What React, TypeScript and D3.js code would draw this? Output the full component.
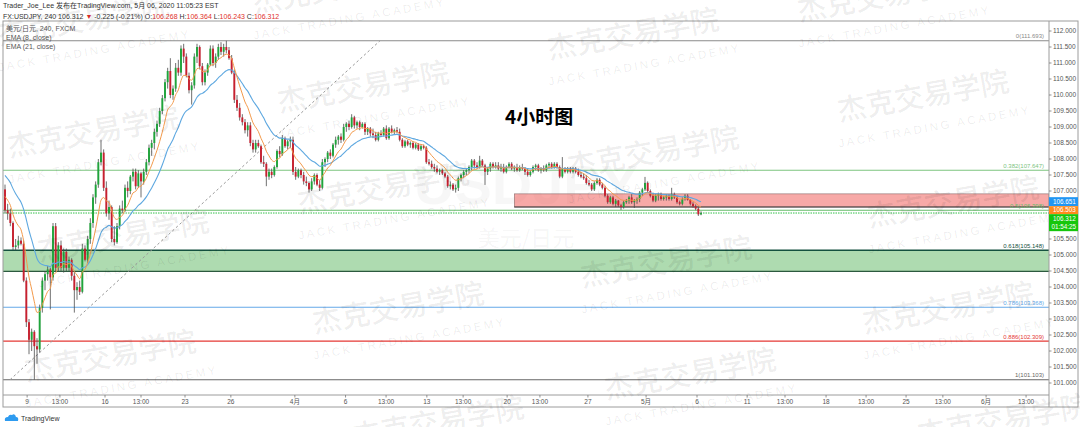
import React from 'react';
import * as d3 from 'd3';

// One 4-hour candle: open, high, low, close
type Bar = [number, number, number, number];

const crashAndBase: Bar[] = [
  [107.05, 107.2, 106.3, 106.4], [106.4, 106.6, 106.1, 106.3], [106.3, 106.45, 105.9, 106.0],
  [106.0, 106.05, 105.15, 105.25], [105.25, 105.5, 105.15, 105.3], [105.3, 105.6, 105.2, 105.45],
  [105.45, 105.55, 105.3, 105.35], [105.35, 105.45, 104.15, 104.2], [104.2, 104.3, 102.75, 102.9],
  [102.9, 103.0, 101.9, 102.35], [102.35, 102.7, 102.0, 102.6], [102.6, 102.65, 101.103, 102.15],
  [102.15, 102.4, 101.6, 102.05], [102.05, 103.45, 101.95, 103.35], [103.35, 104.3, 103.2, 104.2],
  [104.2, 104.5, 103.9, 104.4], [104.4, 104.65, 104.2, 104.55], [104.55, 104.6, 103.3, 104.3],
  [104.3, 106.0, 104.2, 105.9], [105.9, 106.0, 104.5, 104.6], [104.6, 105.4, 104.5, 105.3],
  [105.3, 105.45, 104.5, 104.6], [104.6, 105.2, 104.45, 105.1], [105.1, 105.2, 104.5, 104.6],
  [104.6, 104.95, 104.5, 104.85], [104.85, 104.9, 104.2, 104.35], [104.35, 104.5, 103.2, 103.9],
  [103.9, 104.15, 103.6, 104.0], [104.0, 104.2, 103.75, 103.85], [103.85, 105.35, 103.8, 105.2],
];

const rally: Bar[] = [
  [105.2, 105.3, 104.8, 104.85], [104.85, 105.6, 104.75, 105.5], [105.5, 106.15, 105.35, 106.0],
  [106.0, 106.9, 105.85, 106.8], [106.8, 107.3, 106.6, 107.2], [107.2, 108.0, 107.1, 107.9],
  [107.9, 108.6, 107.8, 108.2], [108.2, 108.3, 107.0, 107.1], [107.1, 107.3, 106.2, 106.3],
  [106.3, 106.7, 106.1, 106.5], [106.5, 106.55, 105.4, 105.5], [105.5, 105.9, 105.3, 105.4],
  [105.4, 106.0, 105.35, 105.9], [105.9, 106.55, 105.8, 106.45], [106.45, 106.7, 106.3, 106.4],
  [106.4, 107.2, 106.35, 107.1], [107.1, 107.3, 106.8, 107.0], [107.0, 107.5, 106.9, 107.45],
  [107.45, 107.7, 107.3, 107.6], [107.6, 107.7, 107.05, 107.15], [107.15, 107.65, 107.1, 107.55],
  [107.55, 107.6, 106.8, 107.3], [107.3, 107.7, 107.2, 107.6], [107.6, 108.0, 107.5, 107.9],
  [107.9, 108.45, 107.8, 108.35], [108.35, 108.6, 108.1, 108.5], [108.5, 108.95, 108.3, 108.85],
  [108.85, 109.2, 108.7, 109.1], [109.1, 109.6, 109.0, 109.5], [109.5, 110.0, 109.4, 109.9],
  [109.9, 110.5, 109.8, 110.4], [110.4, 110.85, 110.2, 110.75],
];

const topping: Bar[] = [
  [110.75, 111.15, 109.9, 110.0], [110.0, 110.3, 109.85, 110.2], [110.2, 111.0, 110.1, 110.85],
  [110.85, 111.1, 110.6, 110.7], [110.7, 111.55, 110.6, 111.45], [111.45, 111.6, 111.0, 111.2],
  [111.2, 111.3, 110.55, 110.6], [110.6, 110.7, 110.05, 110.15], [110.15, 110.4, 109.7, 110.3],
  [110.3, 111.3, 110.2, 111.2], [111.2, 111.6, 111.0, 111.5], [111.5, 111.55, 110.8, 110.9],
  [110.9, 111.0, 110.3, 110.4], [110.4, 110.8, 110.3, 110.7], [110.7, 111.0, 110.6, 110.95],
  [110.95, 111.55, 110.9, 111.45], [111.45, 111.55, 110.9, 111.0], [111.0, 111.3, 110.85, 111.2],
  [111.2, 111.6, 111.1, 111.5], [111.5, 111.65, 111.25, 111.35], [111.35, 111.6, 111.2, 111.5],
  [111.5, 111.693, 111.3, 111.4], [111.4, 111.5, 111.1, 111.15], [111.15, 111.25, 110.65, 110.7],
  [110.7, 110.8, 109.75, 109.85], [109.85, 110.0, 109.5, 109.6], [109.6, 109.75, 109.2, 109.3],
  [109.3, 109.4, 109.05, 109.15], [109.15, 109.25, 108.8, 108.9], [108.9, 109.15, 108.7, 109.05],
  [109.05, 109.15, 108.4, 108.5],
];

const pullback: Bar[] = [
  [108.5, 108.6, 108.2, 108.3], [108.3, 108.6, 108.2, 108.5], [108.5, 108.6, 108.35, 108.4],
  [108.4, 108.45, 107.85, 107.9], [107.9, 108.1, 107.75, 107.85], [107.85, 107.9, 107.15, 107.45],
  [107.45, 107.7, 107.35, 107.6], [107.6, 107.7, 107.4, 107.5], [107.5, 107.8, 107.45, 107.75],
  [107.75, 108.3, 107.7, 108.25], [108.25, 108.4, 108.05, 108.15], [108.15, 108.75, 108.1, 108.65],
  [108.65, 108.7, 108.35, 108.4], [108.4, 108.6, 108.3, 108.55], [108.55, 108.7, 108.35, 108.6],
  [108.6, 108.7, 107.5, 107.6], [107.6, 107.75, 107.35, 107.45], [107.45, 107.7, 107.4, 107.65],
  [107.65, 107.7, 107.4, 107.5], [107.5, 107.6, 107.2, 107.3], [107.3, 107.45, 107.15, 107.25],
  [107.25, 107.3, 106.95, 107.05], [107.05, 107.4, 107.0, 107.3], [107.3, 107.55, 107.2, 107.5],
  [107.5, 107.55, 107.15, 107.2], [107.2, 107.35, 107.0, 107.1], [107.1, 108.0, 107.05, 107.9],
  [107.9, 108.05, 107.75, 108.0], [108.0, 108.25, 107.9, 108.2], [108.2, 108.3, 108.0, 108.1],
  [108.1, 108.5, 108.05, 108.45], [108.45, 108.7, 108.35, 108.6], [108.6, 108.75, 108.45, 108.7],
  [108.7, 108.8, 108.5, 108.6], [108.6, 109.1, 108.55, 109.0],
];

const drift: Bar[] = [
  [109.0, 109.15, 108.85, 109.1], [109.1, 109.2, 108.9, 109.0], [109.0, 109.4, 108.95, 109.3],
  [109.3, 109.35, 108.95, 109.05], [109.05, 109.2, 108.95, 109.15], [109.15, 109.2, 108.9, 109.0],
  [109.0, 109.15, 108.95, 109.1], [109.1, 109.15, 108.75, 108.85], [108.85, 109.0, 108.75, 108.95],
  [108.95, 109.0, 108.7, 108.8], [108.8, 108.95, 108.65, 108.75], [108.75, 108.85, 108.55, 108.6],
  [108.6, 108.85, 108.55, 108.8], [108.8, 108.9, 108.7, 108.75], [108.75, 109.0, 108.7, 108.95],
  [108.95, 109.05, 108.6, 108.65], [108.65, 109.0, 108.6, 108.95], [108.95, 109.05, 108.8, 108.85],
  [108.85, 108.95, 108.75, 108.9], [108.9, 109.0, 108.8, 108.85], [108.85, 108.95, 108.55, 108.6],
  [108.6, 108.65, 108.35, 108.4], [108.4, 108.6, 108.35, 108.55], [108.55, 108.6, 108.4, 108.45],
  [108.45, 108.55, 108.35, 108.5], [108.5, 108.55, 108.3, 108.35], [108.35, 108.5, 108.3, 108.45],
  [108.45, 108.5, 108.25, 108.3], [108.3, 108.45, 108.25, 108.4], [108.4, 108.45, 108.3, 108.35],
  [108.35, 108.4, 107.85, 107.9], [107.9, 108.0, 107.8, 107.85], [107.85, 107.95, 107.7, 107.75],
  [107.75, 107.85, 107.6, 107.7], [107.7, 107.8, 107.55, 107.6], [107.6, 107.7, 107.5, 107.65],
  [107.65, 107.7, 107.5, 107.55], [107.55, 107.6, 107.4, 107.45], [107.45, 107.5, 107.1, 107.15],
  [107.15, 107.3, 107.05, 107.2], [107.2, 107.25, 107.0, 107.05], [107.05, 107.2, 106.95, 107.1],
  [107.1, 107.45, 107.0, 107.4],
];

const range: Bar[] = [
  [107.4, 107.55, 107.3, 107.5], [107.5, 107.65, 107.4, 107.6], [107.6, 107.7, 107.5, 107.65],
  [107.65, 107.8, 107.55, 107.75], [107.75, 108.0, 107.65, 107.95], [107.95, 108.0, 107.7, 107.8],
  [107.8, 107.9, 107.7, 107.75], [107.75, 108.1, 107.7, 107.95], [107.95, 108.0, 107.75, 107.8],
  [107.8, 107.85, 107.19, 107.6], [107.6, 107.75, 107.5, 107.7], [107.7, 107.9, 107.6, 107.85],
  [107.85, 107.9, 107.7, 107.75], [107.75, 107.9, 107.7, 107.8], [107.8, 107.9, 107.65, 107.7],
  [107.7, 107.85, 107.6, 107.75], [107.75, 107.85, 107.55, 107.6], [107.6, 107.8, 107.55, 107.75],
  [107.75, 107.9, 107.7, 107.85], [107.85, 107.9, 107.65, 107.7], [107.7, 107.8, 107.6, 107.75],
  [107.75, 107.85, 107.6, 107.65], [107.65, 107.8, 107.6, 107.75], [107.75, 107.85, 107.65, 107.7],
  [107.7, 107.75, 107.5, 107.6], [107.6, 107.7, 107.45, 107.5], [107.5, 107.65, 107.45, 107.6],
  [107.6, 107.8, 107.55, 107.75], [107.75, 107.85, 107.65, 107.8], [107.8, 107.85, 107.6, 107.65],
  [107.65, 107.75, 107.55, 107.7], [107.7, 107.8, 107.6, 107.65], [107.65, 107.85, 107.6, 107.8],
  [107.8, 107.9, 107.7, 107.85], [107.85, 107.9, 107.7, 107.75], [107.75, 107.9, 107.7, 107.85],
  [107.85, 107.9, 107.7, 107.75], [107.75, 107.8, 107.4, 107.45], [107.45, 108.06, 107.4, 107.7],
  [107.7, 107.75, 107.55, 107.6], [107.6, 107.75, 107.55, 107.7], [107.7, 107.75, 107.55, 107.6],
  [107.6, 107.75, 107.55, 107.7], [107.7, 107.75, 107.55, 107.6], [107.6, 107.7, 107.45, 107.5],
  [107.5, 107.6, 107.4, 107.45], [107.45, 107.55, 107.35, 107.4], [107.4, 107.5, 107.2, 107.25],
  [107.25, 107.35, 107.15, 107.2], [107.2, 107.25, 107.0, 107.05], [107.05, 107.3, 107.0, 107.25],
];

const breakdown: Bar[] = [
  [107.25, 107.4, 107.2, 107.35], [107.35, 107.4, 107.15, 107.2], [107.2, 107.25, 107.05, 107.1],
  [107.1, 107.15, 106.8, 106.85], [106.85, 106.9, 106.6, 106.65], [106.65, 106.85, 106.6, 106.8],
  [106.8, 106.85, 106.55, 106.6], [106.6, 106.75, 106.5, 106.7], [106.7, 106.72, 106.5, 106.55],
  [106.55, 106.6, 106.41, 106.5], [106.5, 106.7, 106.45, 106.65], [106.65, 106.75, 106.6, 106.7],
  [106.7, 106.85, 106.6, 106.8], [106.8, 106.9, 106.6, 106.65], [106.65, 106.75, 106.47, 106.7],
  [106.7, 106.8, 106.6, 106.75], [106.75, 107.0, 106.65, 106.95], [106.95, 107.1, 106.85, 107.05],
  [107.05, 107.44, 107.0, 107.25], [107.25, 107.3, 106.95, 107.0], [107.0, 107.05, 106.8, 106.85],
  [106.85, 106.95, 106.65, 106.7], [106.7, 106.9, 106.65, 106.85], [106.85, 106.95, 106.7, 106.9],
  [106.9, 106.95, 106.7, 106.75], [106.75, 106.85, 106.7, 106.8], [106.8, 106.9, 106.7, 106.85],
  [106.85, 106.9, 106.7, 106.75], [106.75, 107.1, 106.7, 106.9], [106.9, 106.95, 106.75, 106.8],
  [106.8, 106.85, 106.6, 106.65], [106.65, 106.7, 106.55, 106.6], [106.6, 106.8, 106.55, 106.75],
  [106.75, 106.9, 106.7, 106.85], [106.85, 106.9, 106.7, 106.72], [106.72, 106.75, 106.55, 106.6],
  [106.6, 106.65, 106.48, 106.52], [106.52, 106.58, 106.4, 106.45], [106.45, 106.5, 106.22, 106.27],
  [106.268, 106.364, 106.243, 106.312],
];

const bars: Bar[] = [...crashAndBase, ...rally, ...topping, ...pullback, ...drift, ...range, ...breakdown];

// Axis ticks (106.500 and 106.000 sit under the live price labels)
const priceTicks = [112, 111.5, 111, 110.5, 110, 109.5, 109, 108.5, 108, 107.5, 107, 105.5, 105, 104.5, 104, 103.5, 103, 102.5, 102, 101.5, 101];
const timeTickLabels = ['9', '13:00', '16', '13:00', '23', '26', '4月', '6', '13:00', '13', '13:00', '20', '13:00', '27', '5月', '6', '11', '13:00', '18', '13:00', '25', '13:00', '6月', '13:00'];
const timeTickBars = [8.3, 20.6, 37.5, 51, 67.5, 84.7, 108.7, 127.7, 142.9, 158.2, 171.8, 188.3, 200.6, 218.6, 240.4, 259.5, 278.3, 292.5, 307.9, 322.9, 337.9, 351.7, 367.9, 382.9];

// Fibonacci retracement drawn from the March high to the March low
const fibRatios = ['0', '0.382', '0.5', '0.618', '0.786', '0.886', '1'];
const fibPrices = [111.693, 107.647, 106.398, 105.148, 103.368, 102.309, 101.103];
const fibColors = ['#8a8a8a', '#7cc47f', '#66bb6a', '#14513f', '#64a8e8', '#e53935', '#666666'];
const fibAnchorBars = [1.9, 140.6];
const fibAnchorPrices = [101.103, 111.693];

// Zones
const supportZone = [104.49, 105.148];
const resistanceZone = [106.5, 106.91];
const resistanceStartBar = 191;

// Indicator settings and last values
const emaFastPeriod = 8;
const emaSlowPeriod = 21;
const emaFastSeed = 106.95;
const emaSlowSeed = 107.6;
const lastPrice = 106.312;
const emaSlowLabel = 106.651;
const emaFastLabel = 106.503;
const countdown = '01:54:25';

const W = 1080;
const H = 427;
const plot = { left: 3, right: 1049, top: 21, bottom: 395 };

const x = d3.scaleLinear().domain([0, bars.length - 1]).range([5, 701]);
const y = d3.scaleLinear().domain([101, 112]).range([383, 31]);

function ema(values: number[], period: number, seed: number): number[] {
  const k = 2 / (period + 1);
  let prev = seed;
  return values.map((v) => (prev = prev + k * (v - prev)));
}

const closes = bars.map((b) => b[3]);
const emaFast = ema(closes, emaFastPeriod, emaFastSeed);
const emaSlow = ema(closes, emaSlowPeriod, emaSlowSeed);

const lineGen = d3
  .line<number>()
  .x((_, i) => x(i))
  .y((d) => y(d))
  .curve(d3.curveMonotoneX);

const UP = '#1fa53b';
const DOWN = '#c8202f';
const WICK = '#4a4a4a';

const wmFont = "'Noto Sans CJK SC', sans-serif";
const uiFont = "'Liberation Sans', 'Noto Sans CJK SC', sans-serif";

const watermarkSpots: [number, number][] = [
  [85, 30], [340, -2], [885, 6], [635, 44], [95, 142], [365, 97], [925, 106],
  [655, 162], [385, 198], [955, 212], [125, 246], [668, 272], [400, 318],
  [950, 318], [112, 366], [692, 384], [440, 432], [1005, 430],
];

function Watermark({ cx, cy }: { cx: number; cy: number }) {
  return (
    <g transform={`translate(${cx},${cy}) rotate(-10)`} fill="#000" fillOpacity={0.08}>
      <text x={0} y={0} textAnchor="middle" fontFamily={wmFont} fontSize={29} fontWeight={500}>
        杰克交易学院
      </text>
      <text x={6} y={26} textAnchor="middle" fontFamily={uiFont} fontSize={11.5} letterSpacing={2.6}>
        JACK TRADING ACADEMY
      </text>
    </g>
  );
}

export default function App() {
  const bodyW = 1.9;
  const zoneRight = plot.right;
  const priceLabelX = plot.right;
  const axisTextX = plot.right + 4;

  return (
    <svg
      width={W}
      height={H}
      viewBox={`0 0 ${W} ${H}`}
      style={{ position: 'absolute', left: 0, top: 0, background: '#fff' }}
    >
      <defs>
        <clipPath id="pane">
          <rect x={plot.left} y={plot.top} width={plot.right - plot.left} height={plot.bottom - plot.top} />
        </clipPath>
      </defs>
      <rect x={0} y={0} width={W} height={H} fill="#fff" />

      {/* header */}
      <text x={3} y={8} fontFamily={uiFont} fontSize={7} fill="#333">
        Trader_Joe_Lee 发布在TradingView.com, 5月 06, 2020 11:05:23 EST
      </text>
      <text x={3} y={18.5} fontFamily={uiFont} fontSize={7} fill="#333">
        FX:USDJPY, 240 106.312 <tspan fill="#e0302b">▼</tspan> -0.225 (-0.21%) O:
        <tspan fill="#e0302b">106.268</tspan> H:<tspan fill="#e0302b">106.364</tspan> L:
        <tspan fill="#e0302b">106.243</tspan> C:<tspan fill="#e0302b">106.312</tspan>
      </text>

      {/* symbol watermark */}
      <text x={526} y={204} textAnchor="middle" fontSize={56} fontWeight={700} fontFamily={uiFont} fill="#000" fillOpacity={0.03}>
        USDJPY
      </text>
      <text x={526} y={246} textAnchor="middle" fontSize={22} fontFamily={wmFont} fill="#000" fillOpacity={0.05}>
        美元/日元
      </text>

      <g clipPath="url(#pane)">
        {/* support zone */}
        <rect
          x={plot.left}
          y={y(supportZone[1])}
          width={plot.right - plot.left}
          height={y(supportZone[0]) - y(supportZone[1])}
          fill="#4caf50"
          fillOpacity={0.45}
        />
        <line x1={plot.left} x2={plot.right} y1={y(supportZone[0])} y2={y(supportZone[0])} stroke="#2c5a3f" strokeWidth={1.3} />

        {/* resistance zone */}
        <rect
          x={x(resistanceStartBar)}
          y={y(resistanceZone[1])}
          width={zoneRight - x(resistanceStartBar)}
          height={y(resistanceZone[0]) - y(resistanceZone[1])}
          fill="#ef5350"
          fillOpacity={0.5}
          stroke="#8a6a6a"
          strokeWidth={0.6}
        />
        <line x1={x(resistanceStartBar)} x2={zoneRight} y1={y(resistanceZone[0])} y2={y(resistanceZone[0])} stroke="#3a3a3a" strokeWidth={1} />

        {/* fibonacci levels */}
        {fibPrices.map((p, i) => (
          <g key={`fib${i}`}>
            <line
              x1={plot.left}
              x2={plot.right}
              y1={y(p)}
              y2={y(p)}
              stroke={fibColors[i]}
              strokeWidth={i === 3 ? 1.5 : 1.1}
            />
            <text
              x={plot.right - 5}
              y={y(p) - 2.5}
              textAnchor="end"
              fontFamily={uiFont}
              fontSize={6}
              fill={fibColors[i]}
            >
              {`${fibRatios[i]}(${fibPrices[i].toFixed(3)})`}
            </text>
          </g>
        ))}
        <line
          x1={x(fibAnchorBars[0])}
          y1={y(fibAnchorPrices[0])}
          x2={x(fibAnchorBars[1])}
          y2={y(fibAnchorPrices[1])}
          stroke="#9a9a9a"
          strokeWidth={1}
          strokeDasharray="2.5,2.5"
        />

        {/* last price line */}
        <line x1={plot.left} x2={plot.right} y1={y(lastPrice)} y2={y(lastPrice)} stroke="#33c24a" strokeWidth={1} strokeDasharray="1.5,1" />

        {/* candles */}
        {bars.map((b, i) => {
          const [o, h, l, c] = b;
          const up = c >= o;
          const top = y(Math.max(o, c));
          const bot = y(Math.min(o, c));
          const cx = x(i);
          return (
            <g key={`c${i}`}>
              <line x1={cx} x2={cx} y1={y(h)} y2={y(l)} stroke={WICK} strokeWidth={0.8} />
              <rect
                x={cx - bodyW / 2}
                y={top}
                width={bodyW}
                height={Math.max(bot - top, 0.8)}
                fill={up ? UP : DOWN}
              />
            </g>
          );
        })}

        {/* moving averages */}
        <path d={lineGen(emaSlow) ?? ''} fill="none" stroke="#5ea8e0" strokeWidth={1.1} />
        <path d={lineGen(emaFast) ?? ''} fill="none" stroke="#f39a4b" strokeWidth={1} />
      </g>

      {/* pane legend */}
      <g fontFamily={uiFont} fontSize={7} fill="#555">
        <text x={6} y={30.5}>美元/日元, 240, FXCM</text>
        <text x={6} y={39.5}>EMA (8, close)</text>
        <text x={6} y={48.5}>EMA (21, close)</text>
      </g>

      {/* title */}
      <text x={505} y={124} fontFamily={wmFont} fontSize={19} fontWeight={700} fill="#000">
        4小时图
      </text>

      {/* frame */}
      <rect x={plot.left} y={plot.top} width={1078 - plot.left} height={407 - plot.top} fill="none" stroke="#9c9c9c" strokeWidth={1} />
      <line x1={plot.right} x2={plot.right} y1={plot.top} y2={407} stroke="#9c9c9c" strokeWidth={1} />
      <line x1={plot.left} x2={plot.right} y1={plot.bottom} y2={plot.bottom} stroke="#9c9c9c" strokeWidth={1} />

      {/* price axis */}
      <g fontFamily={uiFont} fontSize={6.5} fill="#555">
        {priceTicks.map((p) => (
          <g key={`p${p}`}>
            <line x1={plot.right} x2={plot.right + 2.5} y1={y(p)} y2={y(p)} stroke="#777" strokeWidth={0.8} />
            <text x={axisTextX} y={y(p) + 2.3}>
              {p.toFixed(3)}
            </text>
          </g>
        ))}
      </g>

      {/* time axis */}
      <g fontFamily={uiFont} fontSize={6.5} fill="#555">
        {timeTickBars.map((t, i) => (
          <g key={`t${i}`}>
            <line x1={x(t)} x2={x(t)} y1={plot.bottom} y2={plot.bottom + 2.5} stroke="#777" strokeWidth={0.8} />
            <text x={x(t)} y={403.5} textAnchor="middle">
              {timeTickLabels[i]}
            </text>
          </g>
        ))}
      </g>

      {/* price labels on the axis */}
      <g fontFamily={uiFont} fontSize={6.3} fill="#fff">
        <rect x={priceLabelX} y={y(emaSlowLabel) - 5} width={29} height={9} fill="#2196f3" />
        <text x={axisTextX} y={y(emaSlowLabel) + 2}>{emaSlowLabel.toFixed(3)}</text>
        <rect x={priceLabelX} y={y(emaSlowLabel) + 4} width={29} height={8} fill="#ff8a1c" />
        <text x={axisTextX} y={y(emaSlowLabel) + 10.3}>{emaFastLabel.toFixed(3)}</text>
        <rect x={priceLabelX} y={y(emaSlowLabel) + 12} width={29} height={17} fill="#16c60c" />
        <text x={axisTextX} y={y(emaSlowLabel) + 18.6}>{lastPrice.toFixed(3)}</text>
        <text x={axisTextX - 1.5} y={y(emaSlowLabel) + 26.5}>{countdown}</text>
      </g>

      {/* branding */}
      <g transform="translate(4,413)">
        <path d="M1,8 Q0,4 4,4 Q5,1 8,2 Q11,0 12,4 Q15,4 14,8 Z" fill="#2e9bf0" />
        <text x={17} y={8} fontFamily={uiFont} fontSize={7} fill="#333">
          TradingView
        </text>
      </g>

      {/* academy watermarks */}
      {watermarkSpots.map(([cx, cy], i) => (
        <Watermark key={`wm${i}`} cx={cx} cy={cy} />
      ))}
    </svg>
  );
}
